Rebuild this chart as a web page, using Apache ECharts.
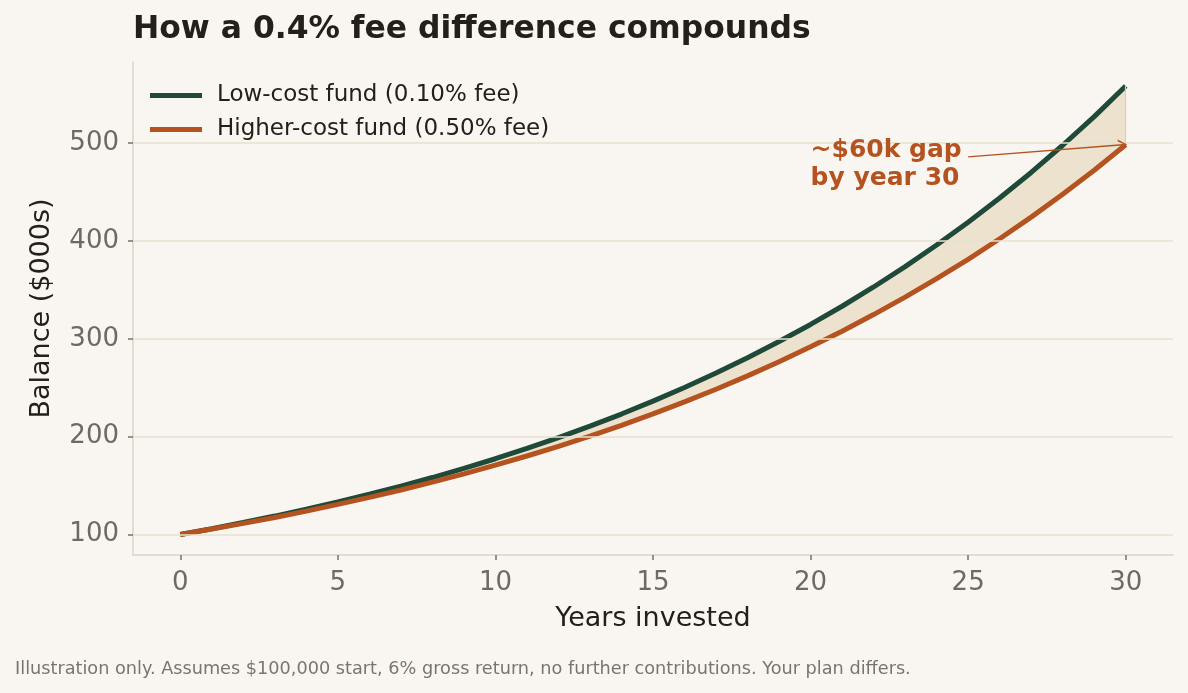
<!DOCTYPE html>
<html>
<head>
<meta charset="utf-8">
<script src="https://cdn.jsdelivr.net/npm/echarts@6/dist/echarts.min.js"></script>
<style>
  html, body { margin: 0; padding: 0; background: #f9f6f1; }
  #chart { width: 1188px; height: 693px; }
</style>
</head>
<body>
<div id="chart"></div>
<script>
  // years 0..30, balances in $000s
  var years = [0, 1, 2, 3, 4, 5, 6, 7, 8, 9, 10, 11, 12, 13, 14, 15, 16, 17, 18, 19, 20,
    21, 22, 23, 24, 25, 26, 27, 28, 29, 30];
  var lowCost = [100, 105.9, 112.2, 118.8, 125.8, 133.2, 141.1, 149.4, 158.2, 167.5, 177.4,
    187.9, 199.0, 210.7, 223.1, 236.3, 250.2, 265.0, 280.6, 297.2, 314.7,
    333.3, 353.0, 373.8, 395.9, 419.2, 443.9, 470.1, 497.9, 527.2, 558.4];
  var higherCost = [100, 105.5, 111.3, 117.4, 123.9, 130.7, 137.9, 145.5, 153.5, 161.9, 170.8,
    180.2, 190.1, 200.6, 211.6, 223.2, 235.5, 248.5, 262.1, 276.6, 291.8,
    307.8, 324.8, 342.6, 361.5, 381.3, 402.3, 424.4, 447.8, 472.4, 498.4];
  var xTicks = [0, 5, 10, 15, 20, 25, 30];
  var yTicks = [100, 200, 300, 400, 500];

  var seriesNames = ['Low-cost fund (0.10% fee)', 'Higher-cost fund (0.50% fee)'];
  var green = '#1f4a3a';
  var orange = '#b4531f';
  var last = years.length - 1;

  function pairs(vals) {
    return years.map(function (y, i) { return [y, vals[i]]; });
  }

  // shaded band between the two curves, drawn once through the axes
  function renderGap(params, api) {
    if (params.dataIndex !== 0) return;
    var pts = [];
    for (var i = 0; i < years.length; i++) pts.push(api.coord([years[i], lowCost[i]]));
    for (var j = years.length - 1; j >= 0; j--) pts.push(api.coord([years[j], higherCost[j]]));
    return {
      type: 'polygon',
      shape: { points: pts },
      style: { fill: '#ece2cd', stroke: null }
    };
  }

  var chart = echarts.init(document.getElementById('chart'));
  chart.setOption({
    backgroundColor: '#f9f6f1',
    animation: false,
    textStyle: { fontFamily: 'DejaVu Sans' },
    title: {
      text: 'How a 0.4% fee difference compounds',
      left: 128,
      top: 9,
      textStyle: { fontFamily: 'DejaVu Sans', fontWeight: 'bold', fontSize: 31.4, color: '#222019' }
    },
    graphic: [{
      type: 'text',
      left: 15,
      top: 660,
      style: {
        text: 'Illustration only. Assumes $100,000 start, 6% gross return, no further contributions. Your plan differs.',
        fontFamily: 'DejaVu Sans',
        fontSize: 17.7,
        fill: '#7a756c'
      }
    }],
    legend: {
      data: seriesNames,
      orient: 'vertical',
      left: 150,
      top: 84,
      padding: 0,
      itemWidth: 52,
      itemHeight: 5,
      itemGap: 11,
      icon: 'rect',
      textStyle: { fontFamily: 'DejaVu Sans', fontSize: 23, color: '#222019', padding: [0, 0, 0, 10] }
    },
    grid: { left: 133, right: 15, top: 62, bottom: 138 },
    xAxis: {
      type: 'value',
      min: -1.5,
      max: 31.5,
      name: 'Years invested',
      nameLocation: 'middle',
      nameGap: 50,
      nameTextStyle: { fontSize: 27, color: '#222019' },
      axisLine: { onZero: false, lineStyle: { color: '#ddd5c4', width: 1.5 } },
      axisTick: { customValues: xTicks, length: 5, lineStyle: { color: '#77726a', width: 1.5 } },
      axisLabel: { customValues: xTicks, fontSize: 26, color: '#6f6a61', margin: 15 },
      splitLine: { show: false }
    },
    yAxis: {
      type: 'value',
      min: 79,
      max: 583,
      name: 'Balance ($000s)',
      nameLocation: 'middle',
      nameGap: 78,
      nameTextStyle: { fontSize: 27, color: '#222019' },
      axisLine: { show: true, onZero: false, lineStyle: { color: '#ddd5c4', width: 1.5 } },
      axisTick: { show: true, customValues: yTicks, length: 5, lineStyle: { color: '#77726a', width: 1.5 } },
      axisLabel: { customValues: yTicks, fontSize: 26, color: '#6f6a61', margin: 14 },
      splitLine: { show: false }
    },
    series: [
      {
        // grid lines at the labelled ticks
        type: 'line',
        data: [],
        silent: true,
        z: 1,
        markLine: {
          silent: true,
          symbol: 'none',
          label: { show: false },
          lineStyle: { color: '#e8e0cf', width: 1.5, type: 'solid' },
          data: yTicks.map(function (v) { return { yAxis: v }; })
        }
      },
      {
        type: 'custom',
        data: years,
        silent: true,
        z: 2,
        renderItem: renderGap,
        markLine: {
          silent: true,
          symbol: 'none',
          label: { show: false },
          lineStyle: { color: '#ddd0b0', width: 1.2, type: 'solid' },
          data: [[{ coord: [years[last], higherCost[last]] }, { coord: [years[last], lowCost[last]] }]]
        }
      },
      {
        name: seriesNames[0],
        type: 'line',
        data: pairs(lowCost),
        symbol: 'none',
        z: 3,
        color: green,
        lineStyle: { color: green, width: 5 }
      },
      {
        name: seriesNames[1],
        type: 'line',
        data: pairs(higherCost),
        symbol: 'none',
        z: 3,
        color: orange,
        lineStyle: { color: orange, width: 5 },
        markLine: {
          silent: true,
          symbol: ['none', 'path://M0 10 L5 0 L10 10 L8.4 10 L5 3 L1.6 10 Z'],
          symbolSize: [11, 9],
          label: { show: false },
          lineStyle: { color: orange, width: 1.3, type: 'solid' },
          data: [[{ coord: [25, 486] }, { coord: [29.9, higherCost[last]] }]]
        },
        markPoint: {
          symbol: 'circle',
          symbolSize: 0,
          silent: true,
          data: [{ coord: [20, 478], value: '' }],
          label: {
            show: true,
            position: 'right',
            distance: 0,
            formatter: '~$60k gap\nby year 30',
            fontFamily: 'DejaVu Sans',
            fontWeight: 'bold',
            fontSize: 25,
            lineHeight: 28,
            color: orange,
            align: 'left'
          }
        }
      }
    ]
  });
</script>
</body>
</html>
